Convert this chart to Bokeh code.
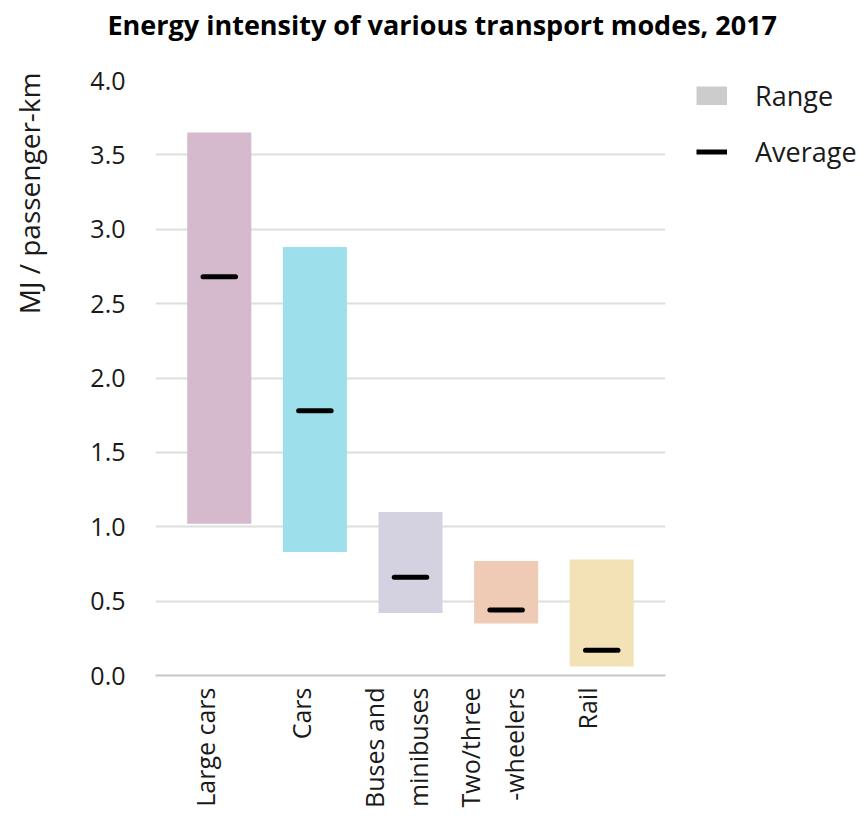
import math
from bokeh.plotting import figure
from bokeh.models import (Range1d, FixedTicker, Legend, LegendItem, ColumnDataSource,
                          Title, CustomJSTickFormatter)
from bokeh.embed import file_html
from bokeh.resources import INLINE

categories = ["Large cars", "Cars", "Buses and\nminibuses", "Two/three\n-wheelers", "Rail"]
range_low = [1.02, 0.83, 0.42, 0.35, 0.06]
range_high = [3.65, 2.88, 1.10, 0.77, 0.78]
average = [2.68, 1.78, 0.66, 0.44, 0.17]
colors = ["#d4bacc", "#9de0ec", "#d4d2e1", "#efcbb5", "#f4e2b7"]
y_ticks = [0.0, 0.5, 1.0, 1.5, 2.0, 2.5, 3.0, 3.5, 4.0]

FONT = "Open Sans"
TXT = "#1a1a1a"
xs = list(range(len(categories)))
nan = float("nan")

p = figure(frame_width=510, frame_height=595,
           x_range=Range1d(-0.667, len(categories) - 0.333),
           y_range=Range1d(0, 4.0),
           output_backend="svg", toolbar_location=None,
           min_border_left=155, min_border_right=195,
           min_border_top=80, min_border_bottom=141)

p.outline_line_color = None
p.background_fill_color = "white"
p.border_fill_color = "white"

src = ColumnDataSource(dict(x=xs, low=range_low, high=range_high, avg=average,
                            color=colors,
                            x0=[x - 0.17 for x in xs], x1=[x + 0.17 for x in xs]))

p.vbar(x="x", bottom="low", top="high", width=0.67, fill_color="color",
       line_color=None, source=src)
seg = p.segment(x0="x0", x1="x1", y0="avg", y1="avg", line_color="black",
                line_width=5, line_cap="round", source=src)

# legend proxies (not drawn in the plot)
range_proxy = p.line(x=[nan, nan], y=[nan, nan], line_color="#cccccc",
                     line_width=19, line_cap="butt")
avg_proxy = p.line(x=[nan, nan], y=[nan, nan], line_color="black", line_width=5)

legend = Legend(items=[LegendItem(label="Range", renderers=[range_proxy]),
                       LegendItem(label="Average", renderers=[avg_proxy])],
                location=(31, 505), margin=0, padding=0,
                border_line_color=None, background_fill_alpha=0,
                glyph_width=31, glyph_height=19, label_height=35,
                spacing=19, label_standoff=28,
                label_text_font=FONT, label_text_font_size="27px",
                label_text_color=TXT)
p.add_layout(legend, "right")

# axes
p.xaxis.ticker = FixedTicker(ticks=[x - 0.15 for x in xs])
p.xaxis.formatter = CustomJSTickFormatter(args=dict(labels=categories),
                                          code="return labels[index]")
p.xaxis.major_label_orientation = math.pi / 2
p.xaxis.major_label_text_font = FONT
p.xaxis.major_label_text_font_size = "25px"
p.xaxis.major_label_text_line_height = 1.3
p.xaxis.major_label_text_color = TXT
p.xaxis.major_tick_line_color = None
p.xaxis.minor_tick_line_color = None
p.xaxis.axis_line_color = "#c8c8c8"
p.xaxis.axis_line_width = 2
p.xaxis.major_label_standoff = 6

p.yaxis.ticker = FixedTicker(ticks=y_ticks)
p.yaxis.major_label_overrides = {t: f"{t:.1f}" for t in y_ticks}
p.yaxis.major_label_text_font = FONT
p.yaxis.major_label_text_font_size = "25px"
p.yaxis.major_label_text_color = TXT
p.yaxis.major_tick_line_color = None
p.yaxis.minor_tick_line_color = None
p.yaxis.axis_line_color = None
p.yaxis.major_label_standoff = 24

p.xgrid.grid_line_color = None
p.ygrid.grid_line_color = "#dedede"
p.ygrid.grid_line_width = 2

# y-axis title, top-aligned, with a spacer between it and the tick labels
p.add_layout(Title(text=" ", text_font_size="1px", standoff=37), "left")
ylab = Title(text="MJ / passenger-km", align="right", text_font=FONT,
             text_font_size="28px", text_font_style="normal", text_color=TXT,
             standoff=0, offset=-8)
p.add_layout(ylab, "left")

# main title with a spacer below it
p.add_layout(Title(text=" ", text_font_size="1px", standoff=35), "above")
p.title.text = "Energy intensity of various transport modes, 2017"
p.title.text_font = FONT
p.title.text_font_size = "27px"
p.title.text_font_style = "bold"
p.title.text_color = "#000000"
p.title.align = "left"
p.title.offset = -48
p.title.standoff = 0

open("out.html", "w").write(file_html(p, INLINE))
